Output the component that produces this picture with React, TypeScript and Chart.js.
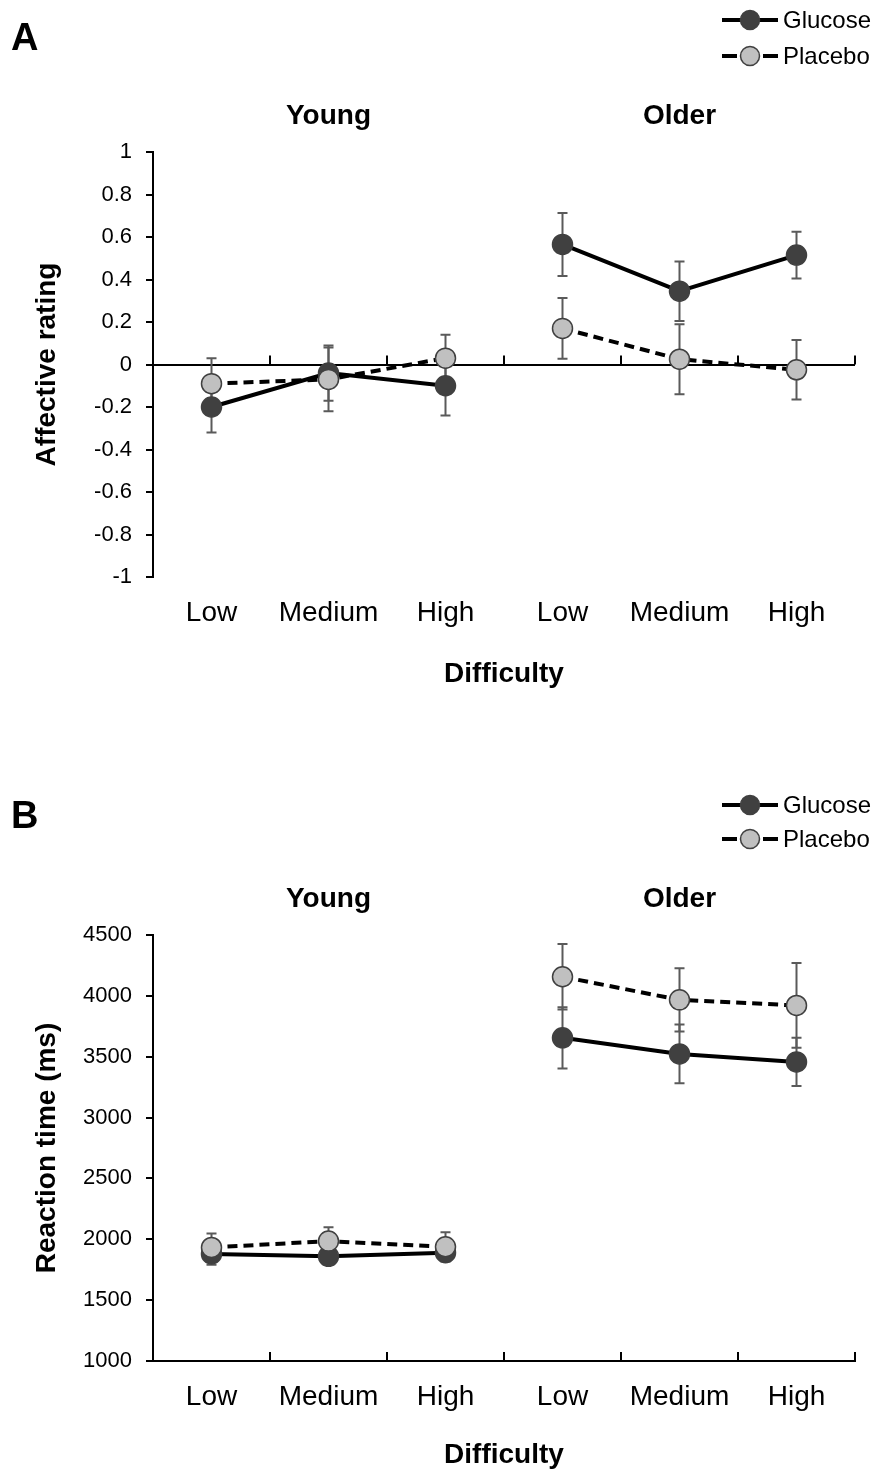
import React, { useEffect, useRef } from "react";
import { Chart, registerables } from "chart.js";

Chart.register(...registerables);

const FONT = '"Liberation Sans", Arial, Helvetica, sans-serif';

// ---------- data ----------
const categories = ["Low", "Medium", "High", "Low", "Medium", "High"];
const groups = ["Young", "Older"];
const seriesNames = ["Glucose", "Placebo"];

// Panel A: affective rating
const affectTicks = [1, 0.8, 0.6, 0.4, 0.2, 0, -0.2, -0.4, -0.6, -0.8, -1];
const affectGlucose = [-0.2, -0.04, -0.1, 0.565, 0.345, 0.515];
const affectGlucoseErr = [0.12, 0.13, 0.14, 0.148, 0.14, 0.11];
const affectPlacebo = [-0.09, -0.07, 0.03, 0.17, 0.025, -0.025];
const affectPlaceboErr = [0.12, 0.15, 0.11, 0.143, 0.165, 0.14];

// Panel B: reaction time (ms)
const rtTicks = [4500, 4000, 3500, 3000, 2500, 2000, 1500, 1000];
const rtGlucose = [1880, 1860, 1890, 3655, 3523, 3457];
const rtGlucoseErr = [90, 70, 70, 252, 242, 198];
const rtPlacebo = [1933, 1985, 1938, 4157, 3967, 3921];
const rtPlaceboErr = [115, 113, 120, 270, 259, 348];

const GLU_FILL = "#404040";
const PLA_FILL = "#c0c0c0";
const ERR_COLOR = "#5a5a5a";

const decorPlugin = {
  id: "decor",
  beforeDatasetsDraw(chart: any) {
    const ctx = chart.ctx;
    const y = chart.scales.y;
    chart.data.datasets.forEach((ds: any, di: number) => {
      const meta = chart.getDatasetMeta(di);
      const errs: number[] = ds.errors || [];
      ctx.save();
      ctx.strokeStyle = ERR_COLOR;
      ctx.lineWidth = 2;
      meta.data.forEach((pt: any, i: number) => {
        const v = ds.data[i];
        const e = errs[i];
        if (v == null || e == null) return;
        const yt = y.getPixelForValue(v + e);
        const yb = y.getPixelForValue(v - e);
        ctx.beginPath();
        ctx.moveTo(pt.x, yt);
        ctx.lineTo(pt.x, yb);
        ctx.moveTo(pt.x - 5, yt);
        ctx.lineTo(pt.x + 5, yt);
        ctx.moveTo(pt.x - 5, yb);
        ctx.lineTo(pt.x + 5, yb);
        ctx.stroke();
      });
      ctx.restore();
    });
  },
  afterDraw(chart: any, _args: any, opts: any) {
    const ctx = chart.ctx;
    const x = chart.scales.x;
    const y = chart.scales.y;
    ctx.save();
    // tick marks on the category axis (between categories), pointing up
    const axisY = y.getPixelForValue(opts.axisValue);
    ctx.strokeStyle = "#000";
    ctx.lineWidth = 2;
    ctx.beginPath();
    for (let i = 0; i <= categories.length; i++) {
      const px = Math.round(x.getPixelForValue(i - 0.5));
      ctx.moveTo(px, axisY);
      ctx.lineTo(px, axisY - 9);
    }
    ctx.stroke();

    // group labels
    ctx.fillStyle = "#000";
    ctx.textAlign = "center";
    ctx.textBaseline = "middle";
    ctx.font = `bold 28px ${FONT}`;
    groups.forEach((g, gi) => {
      const px = x.getPixelForValue(gi * 3 + 1);
      ctx.fillText(g, px, opts.groupY);
    });

    // panel letter
    ctx.textAlign = "left";
    ctx.font = `bold 38px ${FONT}`;
    ctx.fillText(opts.letter, 11, opts.letterY);

    // legend
    const lx0 = 722;
    const lx1 = 778;
    const mx = 750;
    ctx.font = `24px ${FONT}`;
    chart.data.datasets.forEach((ds: any, di: number) => {
      const ly = opts.legendY[di];
      ctx.strokeStyle = "#000";
      ctx.lineWidth = 4;
      ctx.beginPath();
      if (ds.borderDash && ds.borderDash.length) {
        ctx.moveTo(lx0, ly);
        ctx.lineTo(lx0 + 15, ly);
        ctx.moveTo(lx1 - 15, ly);
        ctx.lineTo(lx1, ly);
      } else {
        ctx.moveTo(lx0, ly);
        ctx.lineTo(lx1, ly);
      }
      ctx.stroke();
      ctx.beginPath();
      ctx.arc(mx, ly, 9.5, 0, Math.PI * 2);
      ctx.fillStyle = ds.pointBackgroundColor;
      ctx.fill();
      ctx.lineWidth = 1.5;
      ctx.strokeStyle = GLU_FILL;
      ctx.stroke();
      ctx.fillStyle = "#000";
      ctx.textAlign = "left";
      ctx.fillText(seriesNames[di], 783, ly + 1);
    });
    ctx.restore();
  },
};

function makeConfig(p: {
  ticks: number[];
  glu: number[];
  gluErr: number[];
  pla: number[];
  plaErr: number[];
  yTitle: string;
  zeroLine: boolean;
  xHeight: number;
  xTitlePad: number;
  letter: string;
  letterY: number;
  groupY: number;
  legendY: number[];
}): any {
  const min = Math.min(...p.ticks);
  const max = Math.max(...p.ticks);
  const hideBridge = (ctx: any) => (ctx.p0DataIndex === 2 ? "rgba(0,0,0,0)" : undefined);
  return {
    type: "line",
    data: {
      labels: categories,
      datasets: [
        {
          label: seriesNames[0],
          data: p.glu,
          errors: p.gluErr,
          borderColor: "#000",
          borderWidth: 4,
          pointRadius: 10,
          pointBackgroundColor: GLU_FILL,
          pointBorderColor: GLU_FILL,
          pointBorderWidth: 1.5,
          fill: false,
          tension: 0,
          order: 1,
          segment: { borderColor: hideBridge },
        },
        {
          label: seriesNames[1],
          data: p.pla,
          errors: p.plaErr,
          borderColor: "#000",
          borderWidth: 4,
          borderDash: [10, 6],
          pointRadius: 10,
          pointBackgroundColor: PLA_FILL,
          pointBorderColor: GLU_FILL,
          pointBorderWidth: 1.5,
          fill: false,
          tension: 0,
          order: 0,
          segment: { borderColor: hideBridge },
        },
      ],
    },
    options: {
      responsive: false,
      animation: false,
      events: [],
      layout: { padding: { top: 152, left: 0, right: 22, bottom: 0 }, autoPadding: false },
      plugins: {
        legend: { display: false },
        tooltip: { enabled: false },
        decor: {
          axisValue: p.zeroLine ? 0 : min,
          letter: p.letter,
          letterY: p.letterY,
          groupY: p.groupY,
          legendY: p.legendY,
        },
      },
      scales: {
        x: {
          type: "category",
          offset: true,
          grid: { display: false, drawTicks: false },
          border: { display: !p.zeroLine, color: "#000", width: 2 },
          ticks: {
            font: { family: FONT, size: 28 },
            color: "#000",
            padding: 19,
            maxRotation: 0,
            autoSkip: false,
          },
          title: {
            display: true,
            text: "Difficulty",
            color: "#000",
            font: { family: FONT, size: 28, weight: "bold" },
            padding: { top: 0, bottom: p.xTitlePad },
          },
          afterFit: (s: any) => {
            s.height = p.xHeight;
          },
        },
        y: {
          type: "linear",
          min,
          max,
          afterBuildTicks: (s: any) => {
            s.ticks = p.ticks.map((v) => ({ value: v }));
          },
          ticks: {
            callback: (v: any) => String(Math.round(Number(v) * 10) / 10),
            font: { family: FONT, size: 22 },
            color: "#000",
            padding: 14,
          },
          grid: {
            drawOnChartArea: true,
            color: (c: any) =>
              p.zeroLine && c.tick && c.tick.value === 0 ? "#000" : "rgba(0,0,0,0)",
            lineWidth: 2,
            drawTicks: true,
            tickLength: 7,
            tickColor: "#000",
            tickWidth: 2,
          },
          border: { display: true, color: "#000", width: 2 },
          title: {
            display: true,
            text: p.yTitle,
            color: "#000",
            font: { family: FONT, size: 28, weight: "bold" },
            padding: { top: 30, bottom: 0 },
          },
          afterFit: (s: any) => {
            s.width = 153;
          },
        },
      },
    },
    plugins: [decorPlugin],
  };
}

export default function App() {
  const refA = useRef<HTMLCanvasElement>(null);
  const refB = useRef<HTMLCanvasElement>(null);

  useEffect(() => {
    const a = new Chart(
      refA.current as HTMLCanvasElement,
      makeConfig({
        ticks: affectTicks,
        glu: affectGlucose,
        gluErr: affectGlucoseErr,
        pla: affectPlacebo,
        plaErr: affectPlaceboErr,
        yTitle: "Affective rating",
        zeroLine: true,
        xHeight: 123,
        xTitlePad: 9,
        letter: "A",
        letterY: 40,
        groupY: 116,
        legendY: [20, 56],
      })
    );
    const b = new Chart(
      refB.current as HTMLCanvasElement,
      makeConfig({
        ticks: rtTicks,
        glu: rtGlucose,
        gluErr: rtGlucoseErr,
        pla: rtPlacebo,
        plaErr: rtPlaceboErr,
        yTitle: "Reaction time (ms)",
        zeroLine: false,
        xHeight: 111,
        xTitlePad: 0,
        letter: "B",
        letterY: 35,
        groupY: 116,
        legendY: [22, 56],
      })
    );
    return () => {
      a.destroy();
      b.destroy();
    };
  }, []);

  return (
    <div
      style={{
        position: "absolute",
        left: 0,
        top: 0,
        width: 877,
        height: 1472,
        background: "#fff",
      }}
    >
      <canvas
        ref={refA}
        width={877}
        height={700}
        style={{ position: "absolute", left: 0, top: 0 }}
      />
      <canvas
        ref={refB}
        width={877}
        height={689}
        style={{ position: "absolute", left: 0, top: 783 }}
      />
    </div>
  );
}
